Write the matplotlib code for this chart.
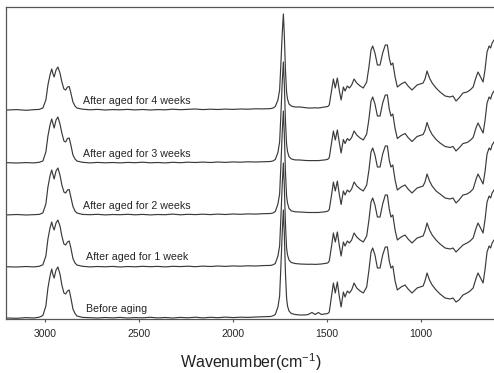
import matplotlib
matplotlib.use("Agg")
import matplotlib.pyplot as plt

# Wavenumber axis (cm-1), shared by every spectrum
wavenumber = [
    3200, 3150, 3100, 3060, 3030, 3011, 2995, 2984, 2973, 2964,
    2957, 2951, 2941, 2931, 2920, 2910, 2899, 2890, 2880, 2871,
    2862, 2851, 2840, 2830, 2800, 2760, 2720, 2680, 2640, 2600,
    2560, 2520, 2480, 2440, 2400, 2360, 2320, 2280, 2240, 2200,
    2160, 2120, 2080, 2040, 2000, 1960, 1920, 1880, 1840, 1800,
    1787, 1775, 1761, 1752, 1746, 1738, 1732, 1727, 1721, 1715,
    1710, 1702, 1690, 1670, 1644, 1620, 1600, 1580, 1563, 1546,
    1530, 1511, 1496, 1488, 1475, 1466, 1456, 1445, 1435, 1425,
    1413, 1404, 1392, 1381, 1369, 1356, 1342, 1324, 1307, 1289,
    1277, 1266, 1257, 1245, 1232, 1218, 1204, 1190, 1179, 1169,
    1160, 1150, 1138, 1126, 1106, 1085, 1069, 1048, 1021, 989,
    979, 968, 955, 941, 920, 899, 872, 846, 830, 814,
    798, 777, 755, 739, 723, 707, 697, 686, 670, 660,
    649, 638, 630, 622, 612, 600,
]

# Absorbance (a.u.) of each sample
before_aging = [
    .000, -.003, .004, .000, .008, .025, .12, .30, .42, .49,
    .43, .40, .48, .51, .44, .33, .25, .24, .27, .28,
    .20, .09, .045, .02, .006, .003, .000, .005, .001, .006,
    .000, .004, .002, .007, .001, .005, .000, .006, .002, .008,
    .001, .007, .003, .009, .004, .008, .006, .010, .012, .015,
    .022, .035, .11, .22, .48, .86, 1.08, .84, .45, .20,
    .12, .07, .045, .035, .03, .03, .035, .055, .035, .055,
    .035, .04, .045, .06, .23, .35, .25, .36, .22, .11,
    .26, .21, .27, .25, .28, .35, .30, .27, .25, .31,
    .48, .66, .70, .63, .50, .50, .63, .71, .71, .57,
    .50, .52, .37, .28, .31, .33, .29, .25, .30, .32,
    .37, .45, .38, .33, .28, .24, .20, .19, .20, .16,
    .18, .23, .25, .27, .30, .40, .45, .41, .35, .48,
    .66, .72, .70, .75, .78, .80,
]

aged_1_week = [
    .002, .000, .005, .001, .007, .022, .11, .28, .39, .45,
    .40, .37, .44, .47, .41, .31, .23, .22, .25, .26,
    .19, .085, .04, .02, .007, .001, .005, .002, .006, .000,
    .005, .002, .007, .003, .006, .001, .007, .004, .008, .003,
    .009, .005, .010, .006, .011, .008, .012, .010, .014, .016,
    .022, .035, .11, .21, .46, .83, 1.04, .81, .43, .19,
    .12, .07, .045, .035, .03, .028, .027, .028, .026, .028,
    .03, .035, .04, .06, .22, .34, .25, .35, .22, .11,
    .25, .21, .26, .24, .27, .34, .30, .27, .25, .31,
    .47, .65, .69, .62, .50, .50, .63, .72, .72, .58,
    .50, .52, .37, .27, .30, .32, .28, .24, .29, .31,
    .36, .44, .37, .32, .27, .23, .19, .18, .19, .15,
    .18, .22, .24, .26, .29, .39, .44, .40, .34, .47,
    .65, .71, .69, .74, .77, .79,
]

aged_2_weeks = [
    .001, .005, .000, .004, .006, .021, .11, .28, .39, .45,
    .40, .36, .44, .47, .40, .30, .23, .22, .25, .255,
    .18, .085, .04, .02, .006, .003, .007, .001, .005, .003,
    .007, .002, .006, .001, .005, .003, .009, .002, .007, .004,
    .008, .004, .009, .005, .010, .007, .011, .009, .013, .015,
    .021, .035, .11, .21, .46, .83, 1.04, .81, .43, .19,
    .12, .065, .042, .032, .03, .027, .025, .025, .024, .025,
    .028, .032, .038, .055, .21, .33, .24, .34, .21, .105,
    .24, .20, .25, .23, .26, .33, .29, .26, .24, .30,
    .45, .63, .67, .60, .48, .48, .61, .69, .69, .55,
    .48, .50, .35, .25, .28, .30, .26, .22, .27, .29,
    .33, .41, .34, .29, .24, .21, .17, .16, .17, .12,
    .15, .20, .21, .23, .26, .36, .41, .37, .31, .43,
    .61, .67, .65, .70, .73, .75,
]

aged_3_weeks = [
    .003, .000, .004, .001, .007, .02, .11, .27, .38, .44,
    .39, .35, .43, .46, .39, .30, .22, .21, .245, .25,
    .18, .08, .04, .02, .007, .001, .006, .002, .005, .001,
    .006, .003, .008, .002, .005, .001, .007, .003, .008, .005,
    .009, .005, .010, .006, .011, .008, .012, .010, .013, .015,
    .021, .035, .105, .21, .45, .81, 1.01, .79, .42, .19,
    .115, .063, .041, .031, .03, .026, .024, .024, .023, .024,
    .027, .031, .037, .053, .21, .32, .23, .33, .21, .10,
    .235, .195, .245, .225, .255, .32, .28, .25, .23, .29,
    .44, .62, .66, .59, .47, .47, .60, .68, .68, .54,
    .47, .49, .345, .245, .275, .295, .255, .215, .265, .285,
    .325, .405, .335, .285, .235, .20, .165, .155, .165, .12,
    .15, .195, .205, .225, .255, .355, .40, .36, .30, .42,
    .60, .66, .64, .69, .72, .74,
]

aged_4_weeks = [
    .000, .004, -.003, .003, .006, .02, .10, .25, .35, .41,
    .36, .33, .40, .43, .37, .28, .21, .20, .23, .235,
    .17, .08, .04, .02, .008, .002, .006, .000, .004, .002,
    .006, .001, .005, .000, .004, .002, .008, .003, .006, .010,
    .004, .008, .005, .009, .006, .010, .008, .012, .011, .014,
    .02, .035, .10, .20, .43, .77, .96, .75, .40, .18,
    .11, .06, .04, .03, .03, .025, .02, .02, .022, .02,
    .025, .03, .035, .05, .20, .31, .22, .32, .20, .10,
    .23, .19, .24, .22, .25, .31, .27, .24, .22, .28,
    .43, .60, .64, .57, .45, .45, .57, .65, .65, .52,
    .45, .47, .33, .23, .26, .28, .24, .20, .25, .27,
    .31, .39, .32, .27, .22, .18, .14, .13, .14, .09,
    .12, .17, .18, .20, .23, .33, .38, .34, .28, .40,
    .58, .64, .62, .67, .70, .72,
]

spectra = [before_aging, aged_1_week, aged_2_weeks, aged_3_weeks, aged_4_weeks]
sample_labels = ["Before aging", "After aged for 1 week", "After aged for 2 weeks",
                 "After aged for 3 weeks", "After aged for 4 weeks"]
stack_offsets = [0.01, 0.52, 1.04, 1.56, 2.09]
label_starts = [2780, 2780, 2800, 2800, 2800]
x_ticks = [3000, 2500, 2000, 1500, 1000]

plt.rcParams['font.family'] = ['Liberation Sans', 'DejaVu Sans']
plt.rcParams['mathtext.default'] = 'regular'

fig = plt.figure(figsize=(4.94, 3.73), dpi=100)
ax = fig.add_axes([6 / 494, 1 - 319 / 373, 1 - 6 / 494, 312 / 373])

line_color = '#3a3a3a'
for spec, off, label, x0 in zip(spectra, stack_offsets, sample_labels, label_starts):
    ax.plot(wavenumber, [v + off for v in spec], color=line_color, lw=0.85,
            solid_joinstyle='round')
    ax.text(x0, off + 0.095, label, fontsize=7.7, ha='left', va='center', color='#262626')

ax.set_xlim(3207, 612)
ax.set_ylim(0, 3.12)
ax.set_yticks([])
ax.set_xticks(x_ticks)
ax.tick_params(axis='x', direction='out', length=2.5, width=0.8, colors='#555555',
               labelcolor='#262626', labelsize=7.5, pad=5)
for side in ('top', 'left', 'bottom'):
    ax.spines[side].set_color('#555555')
    ax.spines[side].set_linewidth(0.9)
ax.spines['right'].set_visible(False)

fig.text(251 / 494, 1 - 362 / 373, 'Wavenumber(cm$^{-1}$)', fontsize=11.5,
         ha='center', va='center', color='#222222')

fig.savefig('out.png', dpi=100)
